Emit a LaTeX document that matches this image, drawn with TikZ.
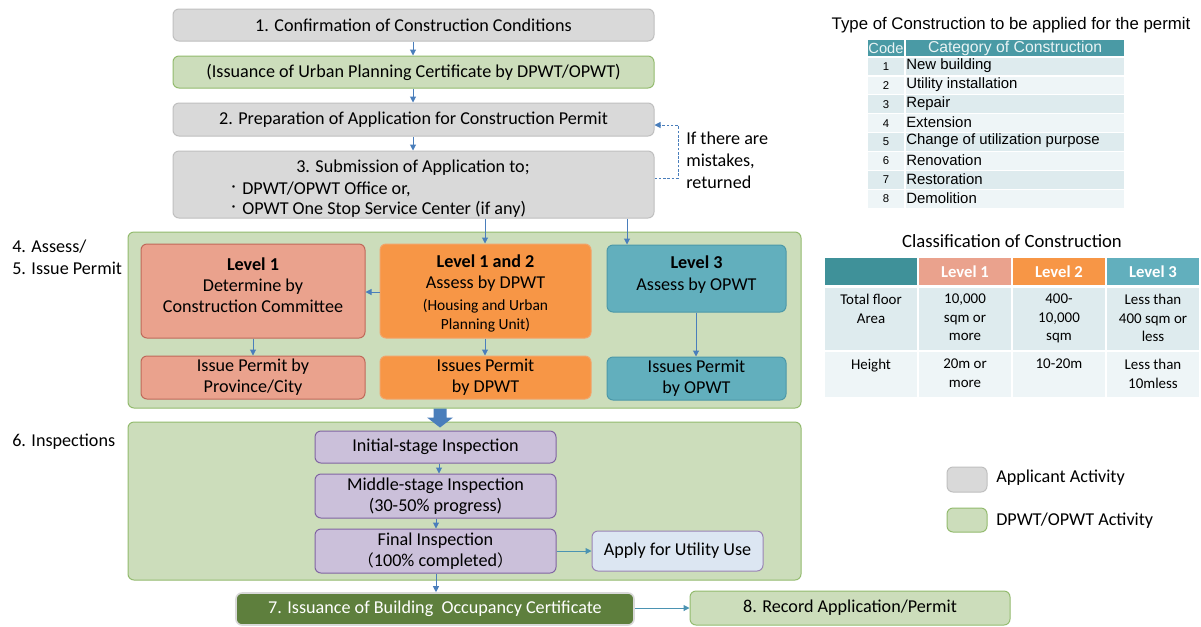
\documentclass[tikz,border=0pt]{standalone}
\usepackage{fontspec}
\setmainfont{Carlito}
\newfontfamily\arialf{Liberation Sans}
\newfontfamily\cjk{Noto Sans CJK JP}
\usetikzlibrary{arrows.meta,calc}
\definecolor{grayf}{HTML}{D9D9D9}
\definecolor{grayd}{HTML}{BFBFBF}
\definecolor{greenf}{HTML}{CCDDBB}
\definecolor{greend}{HTML}{93BB6E}
\definecolor{salf}{HTML}{EAA28D}
\definecolor{sald}{HTML}{C0695A}
\definecolor{oraf}{HTML}{F79646}
\definecolor{orad}{HTML}{F2A46A}
\definecolor{teaf}{HTML}{62AFBD}
\definecolor{tead}{HTML}{4C98A8}
\definecolor{lavf}{HTML}{CBC0DA}
\definecolor{lavd}{HTML}{8064A2}
\definecolor{appf}{HTML}{DCE6F2}
\definecolor{dgreen}{HTML}{5E7F3D}
\definecolor{arrc}{HTML}{4A7EBB}
\definecolor{arrt}{HTML}{4B93B2}
\definecolor{thead}{HTML}{4A9AA5}
\definecolor{rowa}{HTML}{DEEBEE}
\definecolor{rowb}{HTML}{EEF5F7}
\definecolor{hcol}{HTML}{3F9199}
\newcommand\bx[6]{%
 \pgfmathsetmacro\bxcx{(#3+#5)/2}\pgfmathsetmacro\bxcy{(#4+#6)/2}%
 \pgfmathsetmacro\bxw{(#5-#3)*0.75}\pgfmathsetmacro\bxh{(#6-#4)*0.75}%
 \node[#1, minimum width=\bxw pt, minimum height=\bxh pt] (#2) at (\bxcx,\bxcy)}
\tikzset{
 base/.style={rounded corners=4.5pt, line width=0.75pt, align=center, inner sep=0pt, font=\fontsize{13.6}{15.75}\selectfont},
 graybox/.style={base, fill=grayf, draw=grayd},
 greenbox/.style={base, fill=greenf, draw=greend},
 salbox/.style={base, fill=salf, draw=sald},
 orabox/.style={base, fill=oraf, draw=orad},
 teabox/.style={base, fill=teaf, draw=tead},
 lavbox/.style={base, fill=lavf, draw=lavd},
 appbox/.style={base, fill=appf, draw=lavd!80},
 dgbox/.style={base, fill=dgreen, draw=white!85!black, line width=1.2pt, text=white},
 txt/.style={inner sep=0pt, align=center, font=\fontsize{13.6}{15.75}\selectfont},
 arr/.style={draw=arrc, line width=0.75pt, -{Triangle[length=4.5pt,width=4.5pt]}},
 arrtl/.style={draw=arrt, line width=0.75pt, -{Triangle[length=4.5pt,width=4.5pt]}},
 cell/.style={inner sep=0pt, draw=white, line width=1pt, align=center},
 ttxt/.style={inner sep=0pt, font=\arialf\fontsize{11.2}{12}\selectfont},
 ctxt/.style={inner sep=0pt, align=center, font=\fontsize{11.2}{13.8}\selectfont},
}
\begin{document}
\begin{tikzpicture}[x=0.75pt,y=-0.75pt]
\useasboundingbox[fill=white] (0,0) rectangle (1201,626);

% ---- top flow
\bx{graybox}{b1}{173}{9}{654}{41}{1. Confirmation of Construction Conditions};
\bx{greenbox}{bu}{173}{56}{654}{88}{(Issuance of Urban Planning Certificate by DPWT/OPWT)};
\bx{graybox}{b2}{173}{103}{654}{136}{2. Preparation of Application for Construction Permit};
\bx{graybox}{b3}{173}{151}{654}{218}{};
\node[txt] (b3t) at (413,168) {3. Submission of Application to;};
\node[txt,anchor=east] (b3d1) at (240,189) {\cjk\fontsize{9}{10}\selectfont ・};
\node[txt,anchor=west] (b3a) at (242,189) {DPWT/OPWT Office or,};
\node[txt,anchor=east] (b3d2) at (240,209) {\cjk\fontsize{9}{10}\selectfont ・};
\node[txt,anchor=west] (b3b) at (242,209) {OPWT One Stop Service Center (if any)};

\draw[arr] (b1.south -| 413,0) -- (bu.north -| 413,0);
\draw[arr] (bu.south -| 413,0) -- (b2.north -| 413,0);
\draw[arr] (b2.south -| 413,0) -- (b3.north -| 413,0);

\coordinate (dr) at (678,178);
\draw[arr, dashed, dash pattern=on 2pt off 1.2pt] (b3.east |- dr) -- (dr) -- (678,125) -- (b2.east |- 0,125);
\node[txt, anchor=west, align=left, font=\fontsize{13.6}{16.5}\selectfont] (mist) at (686,160) {If there are\\mistakes,\\returned};

% ---- assess container
\bx{greenbox}{g1}{128}{232}{801}{408}{};
\node[txt, anchor=north west, align=left, font=\fontsize{13.6}{16.5}\selectfont] (lab45) at (12,240) {4. Assess/\\5. Issue Permit};

\bx{salbox}{l1}{141}{244}{365}{338}{};
\node[txt] (l1t) at (253,285) {\textbf{Level 1}\\Determine by\\Construction Committee};
\bx{orabox}{l12}{380}{244}{591}{338}{};
\node[txt] (l12t) at (485.5,273.5) {\textbf{Level 1 and 2}\\Assess by DPWT};
\node[txt, font=\fontsize{11.6}{14}\selectfont] (l12s) at (485.5,315.5) {(Housing and Urban\\Planning Unit)};
\bx{teabox}{l3}{607}{245}{786}{312}{};
\node[txt, font=\fontsize{13.6}{16.5}\selectfont] (l3t) at (696.5,275) {\textbf{Level 3}\\Assess by OPWT};

\bx{salbox}{i1}{141}{356}{365}{399}{Issue Permit by\\Province/City};
\bx{orabox}{i2}{380}{356}{591}{399}{Issues Permit\\by DPWT};
\bx{teabox}{i3}{607}{357}{786}{400}{Issues Permit\\by OPWT};

\draw[arr] (b3.south -| 485,0) -- (l12.north -| 485,0);
\draw[arr] (b3.south -| 627,0) -- (l3.north -| 627,0);
\draw[arr] (l12.west |- 0,292) -- (l1.east |- 0,292);
\draw[arr] (l1.south -| 253,0) -- (i1.north -| 253,0);
\draw[arr] (l12.south -| 485,0) -- (i2.north -| 485,0);
\draw[arr] (l3.south -| 696,0) -- (i3.north -| 696,0);

% ---- inspections container
\bx{greenbox}{g2}{128}{422}{801}{580}{};
\node[txt, anchor=west] (lab6) at (12,442) {6. Inspections};

\coordinate (ba) at (g1.south -| 440,0);
\fill[arrc] ($(ba)+(-6.5,0)$) -- ($(ba)+(6.5,0)$) -- ($(ba)+(6.5,9)$) -- ($(ba)+(13,9)$) -- ($(ba)+(0,19)$) -- ($(ba)+(-13,9)$) -- ($(ba)+(-6.5,9)$) -- cycle;

\bx{lavbox}{ins1}{315}{431}{556}{463}{Initial-stage Inspection};
\bx{lavbox}{ins2}{315}{474}{556}{518}{Middle-stage Inspection\\(30-50\% progress)};
\bx{lavbox}{ins3}{315}{529}{556}{573}{Final Inspection\\{\cjk\fontsize{12}{12}\selectfont （}100\% completed{\cjk\fontsize{12}{12}\selectfont ）}};
\bx{appbox}{app}{592}{531}{763}{571}{Apply for Utility Use};

\draw[arr] (ins1.south -| 439,0) -- (ins2.north -| 439,0);
\draw[arr] (ins2.south -| 436,0) -- (ins3.north -| 436,0);
\draw[arrtl] (ins3.east |- 0,551) -- (app.west |- 0,551);

\bx{dgbox}{s7}{236}{593}{634}{625}{7. Issuance of Building\ \ Occupancy Certificate};
\bx{greenbox}{s8}{690}{591}{1010}{625}{8. Record Application/Permit};
\draw[arr] (ins3.south -| 436,0) -- (s7.north -| 436,0);
\draw[arrtl] (s7.east |- 0,608) -- (s8.west |- 0,608);

% ---- legend
\bx{graybox}{lg1}{947}{467}{987}{492}{};
\node[txt, anchor=west] (lg1t) at (996,478) {Applicant Activity};
\bx{greenbox}{lg2}{947}{508}{987}{532}{};
\node[txt, anchor=west] (lg2t) at (996,521) {DPWT/OPWT Activity};

% ---- table 1
\node[inner sep=0pt, font=\arialf\fontsize{12.6}{13}\selectfont] (t1title) at (1011,25) {Type of Construction to be applied for the permit};
\bx{cell, fill=thead, text=white!88!thead, font=\arialf\fontsize{11}{12}\selectfont}{t1hc}{867}{39}{905}{57}{Code};
\bx{cell, fill=thead, text=white!88!thead, font=\arialf\fontsize{11.8}{12}\selectfont}{t1hn}{905}{39}{1125}{57}{Category of Construction};
\foreach \i/\t in {1/New building,2/Utility installation,3/Repair,4/Extension,5/Change of utilization purpose,6/Renovation,7/Restoration,8/Demolition}{
  \pgfmathsetmacro\ya{57+(\i-1)*18.9}
  \pgfmathsetmacro\yb{57+\i*18.9}
  \pgfmathtruncatemacro\odd{mod(\i,2)}
  \ifnum\odd=1 \def\rc{rowa}\else\def\rc{rowb}\fi
  \bx{cell, fill=\rc, font=\arialf\fontsize{8.5}{9}\selectfont}{t1c\i}{867}{\ya}{905}{\yb}{\raisebox{-2.5pt}{\i}};
  \bx{cell, fill=\rc}{t1n\i}{905}{\ya}{1125}{\yb}{};
  \node[ttxt, anchor=west] (t1t\i) at (906,\ya+8.5) {\t};
}

% ---- table 2
\node[inner sep=0pt, font=\fontsize{14}{14}\selectfont] (t2title) at (1012,241) {Classification of Construction};
\bx{cell, fill=hcol}{t2h0}{824}{257}{918}{286}{};
\bx{cell, fill=salf, text=white, font=\bfseries\fontsize{12.5}{12}\selectfont}{t2h1}{918}{257}{1012}{286}{Level 1};
\bx{cell, fill=oraf, text=white, font=\bfseries\fontsize{12.5}{12}\selectfont}{t2h2}{1012}{257}{1106}{286}{Level 2};
\bx{cell, fill=teaf, text=white, font=\bfseries\fontsize{12.5}{12}\selectfont}{t2h3}{1106}{257}{1200}{286}{Level 3};
\bx{cell, fill=rowa}{t2a0}{824}{287}{918}{351}{};
\bx{cell, fill=rowa}{t2a1}{918}{287}{1012}{351}{};
\bx{cell, fill=rowa}{t2a2}{1012}{287}{1106}{351}{};
\bx{cell, fill=rowa}{t2a3}{1106}{287}{1200}{351}{};
\bx{cell, fill=rowb}{t2b0}{824}{351}{918}{398}{};
\bx{cell, fill=rowb}{t2b1}{918}{351}{1012}{398}{};
\bx{cell, fill=rowb}{t2b2}{1012}{351}{1106}{398}{};
\bx{cell, fill=rowb}{t2b3}{1106}{351}{1200}{398}{};
\node[ctxt, anchor=north] (t2a0t) at (871,294) {Total floor\\Area};
\node[ctxt, anchor=north] (t2a1t) at (965,294) {10,000\\sqm or\\more};
\node[ctxt, anchor=north] (t2a2t) at (1059,294) {400-\\10,000\\sqm};
\node[ctxt, anchor=north] (t2a3t) at (1153,294) {Less than\\400 sqm or\\less};
\node[ctxt, anchor=north] (t2b0t) at (871,359) {Height};
\node[ctxt, anchor=north] (t2b1t) at (965,359) {20m or\\more};
\node[ctxt, anchor=north] (t2b2t) at (1059,359) {10-20m};
\node[ctxt, anchor=north] (t2b3t) at (1153,359) {Less than\\10mless};
\end{tikzpicture}
\end{document}
